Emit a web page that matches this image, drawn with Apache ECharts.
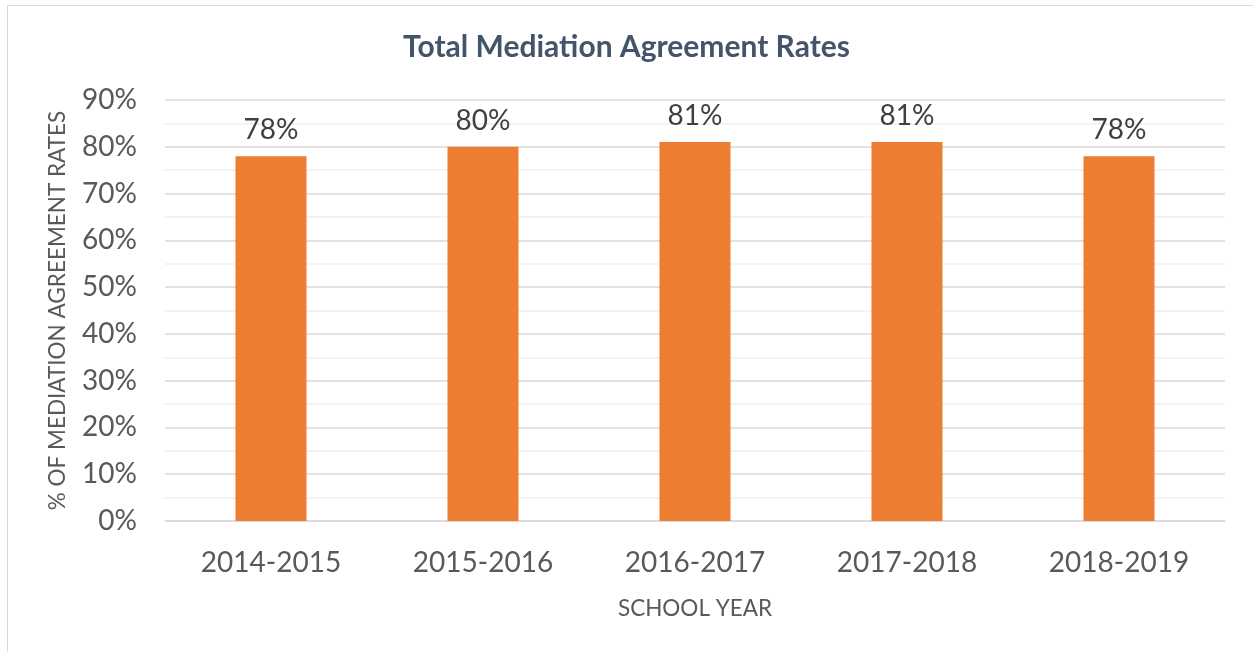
<!DOCTYPE html>
<html>
<head>
<meta charset="utf-8">
<script src="https://cdn.jsdelivr.net/npm/echarts@6/dist/echarts.min.js"></script>
<style>
  html, body { margin: 0; padding: 0; background: #fff; }
  #chart { width: 1253px; height: 652px; }
</style>
</head>
<body>
<div id="chart"></div>
<script>
// data
var schoolYears = ['2014-2015', '2015-2016', '2016-2017', '2017-2018', '2018-2019']
var agreementRates = [78, 80, 81, 81, 78]

var textColor = '#595959'
var chart = echarts.init(document.getElementById('chart'))

var option = {
  animation: false,
  textStyle: { fontFamily: 'Lato' },
  // outer frame of the chart
  graphic: [{
    type: 'rect',
    shape: { x: 7.5, y: 5.5, width: 1260, height: 660 },
    style: { fill: 'none', stroke: '#d9d9d9', lineWidth: 1 },
    silent: true
  }],
  title: {
    text: 'Total Mediation Agreement Rates',
    left: 'center',
    top: 27,
    textStyle: {
      fontFamily: 'Lato',
      fontWeight: 'bold',
      fontSize: 30,
      color: '#44546A'
    }
  },
  grid: {
    left: 165,
    right: 28,
    top: 100,
    bottom: 131
  },
  xAxis: {
    type: 'category',
    data: schoolYears,
    name: 'SCHOOL YEAR',
    nameLocation: 'middle',
    nameGap: 76,
    nameTextStyle: { fontSize: 22.5, color: textColor },
    axisLine: { lineStyle: { color: '#d9d9d9', width: 1.5 } },
    axisTick: { show: false },
    axisLabel: { fontSize: 28, color: textColor, margin: 28 }
  },
  yAxis: {
    type: 'value',
    min: 0,
    max: 90,
    interval: 10,
    name: '% OF MEDIATION AGREEMENT RATES',
    nameLocation: 'middle',
    nameGap: 96,
    nameTextStyle: { fontSize: 22.5, color: textColor },
    axisLine: { show: false },
    axisTick: { show: false },
    axisLabel: { fontSize: 28, color: textColor, margin: 28, formatter: '{value}%' },
    splitLine: { lineStyle: { color: '#d9d9d9', width: 1.5 } },
    minorTick: { show: false, splitNumber: 2 },
    minorSplitLine: { show: true, lineStyle: { color: '#f0f0f0', width: 1.5 } }
  },
  series: [{
    type: 'bar',
    data: agreementRates,
    barWidth: '33.5%',
    itemStyle: { color: '#ED7D31' },
    label: {
      show: true,
      position: 'top',
      distance: 12,
      fontSize: 28,
      color: '#404040',
      formatter: '{c}%'
    }
  }]
}
chart.setOption(option)
</script>
</body>
</html>
